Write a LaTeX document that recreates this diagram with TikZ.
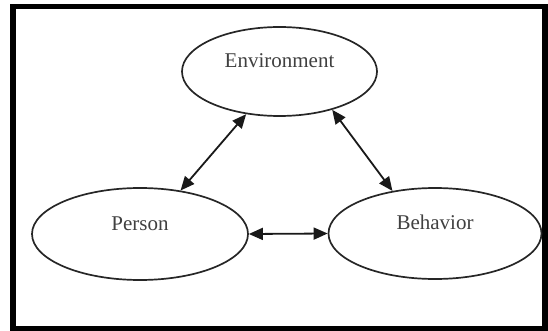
\documentclass[tikz,border=0pt]{standalone}
\usepackage{fontspec}
\setmainfont{Liberation Serif}
\usetikzlibrary{shapes.geometric,arrows.meta}
\begin{document}
\begin{tikzpicture}[x=1pt,y=-1pt,
  factor/.style={ellipse, draw=black!85, line width=1.7pt, inner sep=0pt,
    text=black!75, font=\fontsize{21}{25}\selectfont,
    text height=14pt, text depth=22pt},
  link/.style={{Triangle[length=14pt,width=12pt]}-{Triangle[length=14pt,width=12pt]},
    line width=1.8pt, draw=black!90}]
  \useasboundingbox (0,0) rectangle (548,331);
  % outer frame
  \draw[line width=5.5pt] (13,6.5) rectangle (545,328.5);
  % the three factors
  \node[factor, minimum width=195pt, minimum height=89pt] (env) at (279.5,71.5) {Environment};
  \node[factor, minimum width=216pt, minimum height=92pt] (per) at (140,234) {Person};
  \node[factor, minimum width=213pt, minimum height=91pt] (beh) at (435,233.5) {Behavior};
  % reciprocal influences
  \draw[link] (env.232) -- (per.47);
  \draw[link] (env.324) -- (beh.135);
  \draw[link] (per.0) -- (beh.180);
\end{tikzpicture}
\end{document}
